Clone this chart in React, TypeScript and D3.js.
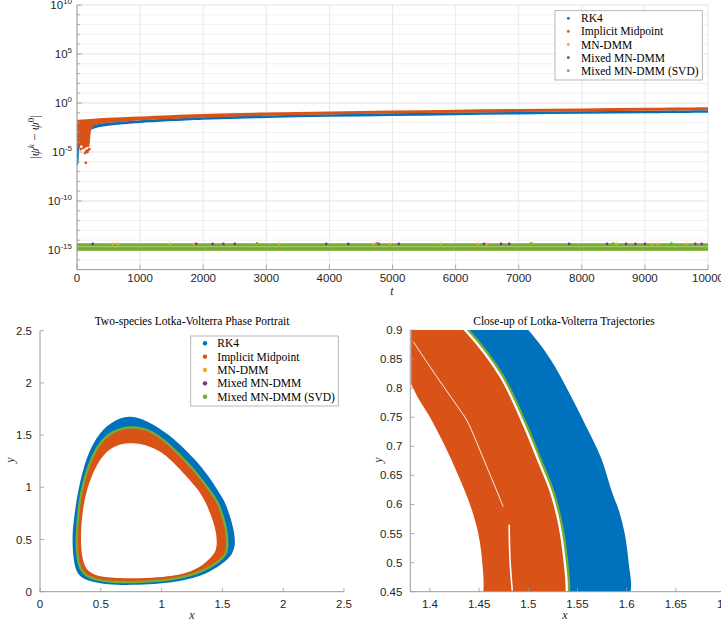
import React from 'react';
import * as d3 from 'd3';

// ---------- colours / names ----------
const methodNames = ['RK4', 'Implicit Midpoint', 'MN-DMM', 'Mixed MN-DMM', 'Mixed MN-DMM (SVD)'];
const methodColors = ['#0072BD', '#D95319', '#EDB120', '#7E2F8E', '#77AC30'];

// ---------- top panel data (log10 of |psi^k - psi^0|) ----------
const tTicks = [0, 1000, 2000, 3000, 4000, 5000, 6000, 7000, 8000, 9000, 10000];
const yTickExps = [-15, -10, -5, 0, 5, 10];

const imUpperT = [0, 200, 500, 1000, 2000, 3000, 4000, 5000, 6000, 7000, 8000, 9000, 10000];
const imUpperLog = [-1.72, -1.62, -1.5, -1.37, -1.12, -0.98, -0.86, -0.77, -0.68, -0.61, -0.55, -0.49, -0.43];
const imLowerT = [0, 20, 40, 70, 100, 130, 160, 185, 200, 210, 220, 235, 260, 300, 500, 800, 1000, 2000, 3000, 4000, 5000, 6000, 7000, 8000, 9000, 10000];
const imLowerLog = [-4.0, -4.2, -4.4, -4.3, -4.5, -4.6, -4.5, -4.5, -4.2, -3.5, -2.9, -2.55, -2.38, -2.25, -2.02, -1.88, -1.77, -1.5, -1.3, -1.17, -1.07, -0.99, -0.93, -0.86, -0.8, -0.75];
const imDotsT = [30, 60, 100, 127, 140, 150, 165, 180, 195];
const imDotsLog = [-4.5, -4.7, -4.6, -5.1, -6.1, -4.9, -5.0, -4.8, -4.7];

const rkT = [200, 300, 500, 800, 1000, 2000, 3000, 4000, 5000, 6000, 7000, 8000, 9000, 10000];
const rkLowerLog = [-2.8, -2.55, -2.32, -2.14, -2.04, -1.72, -1.53, -1.41, -1.32, -1.24, -1.17, -1.1, -1.04, -0.99];
const rkUpperLog = [-2.4, -2.2, -2.0, -1.85, -1.75, -1.45, -1.28, -1.15, -1.05, -0.97, -0.9, -0.84, -0.78, -0.73];
const rkStartT = [0, 10, 20, 30, 40];
const rkStartLowerLog = [-6.0, -6.4, -6.2, -5.2, -4.0];
const rkStartUpperLog = [-3.4, -3.4, -3.5, -3.6, -3.7];

const svdBandT = [0, 10000];
const svdLowerLog = [-15.07, -15.07];
const svdUpperLog = [-14.32, -14.32];
const svdStripeLog = -14.66;
const mnOutlierT = [560, 650, 1480, 1860, 2850, 3210, 4700, 4950, 5760, 6350, 6500, 7200, 8550, 9100, 9200, 9650];
const mixedOutlierT = [250, 1890, 2150, 2320, 2500, 3950, 4300, 4780, 5100, 6450, 6720, 6850, 7800, 8400, 8700, 8850, 9000, 9800, 9900];
const svdOutlierT = [2850, 4750, 7200, 8500, 9420];
const outlierLog = -14.38;

// ---------- phase portrait data (x, y) ----------
const rk4OuterOrbit: [number, number][] = [
  [1.56, 0.32], [1.59, 0.39], [1.604, 0.45], [1.602, 0.5], [1.598, 0.55], [1.592, 0.59], [1.585, 0.622],
  [1.574, 0.68], [1.558, 0.737], [1.541, 0.794], [1.522, 0.851], [1.5, 0.9], [1.39, 1.1], [1.316, 1.214],
  [1.195, 1.36], [1.07, 1.5], [0.877, 1.645], [0.726, 1.693], [0.603, 1.635], [0.49, 1.53], [0.384, 1.31],
  [0.315, 0.99], [0.274, 0.67], [0.265, 0.5], [0.272, 0.35], [0.29, 0.21], [0.33, 0.14], [0.42, 0.095],
  [0.55, 0.07], [0.75, 0.06], [1.124, 0.085], [1.398, 0.176],
];
const invariantOrbit: [number, number][] = [
  [1.52, 0.335], [1.536, 0.39], [1.5414, 0.45], [1.539, 0.507], [1.534, 0.565], [1.5254, 0.622], [1.512, 0.679],
  [1.498, 0.737], [1.4735, 0.823], [1.439, 0.9], [1.35, 1.04], [1.26, 1.18], [1.04, 1.437], [0.905, 1.549],
  [0.75, 1.588], [0.6, 1.54], [0.49, 1.437], [0.397, 1.21], [0.335, 0.958], [0.307, 0.67], [0.3, 0.45],
  [0.31, 0.3], [0.335, 0.21], [0.37, 0.16], [0.45, 0.115], [0.6, 0.092], [0.8, 0.09], [1.124, 0.115], [1.37, 0.205],
];
const imInnerOrbit: [number, number][] = [
  [1.426, 0.351], [1.447, 0.4], [1.4542, 0.45], [1.4532, 0.5], [1.4491, 0.55], [1.4407, 0.6], [1.4288, 0.65],
  [1.4153, 0.7], [1.4, 0.75], [1.389, 0.78], [1.378, 0.815], [1.342, 0.9], [1.29, 0.995], [1.17, 1.15],
  [0.987, 1.374], [0.75, 1.443], [0.576, 1.39], [0.466, 1.23], [0.384, 0.99], [0.343, 0.735], [0.332, 0.447],
  [0.356, 0.256], [0.41, 0.18], [0.5, 0.138], [0.713, 0.122], [1.124, 0.144], [1.316, 0.224],
];
const imGapUpper: [number, number][] = [[1.383, 0.88], [1.4068, 0.82], [1.4305, 0.7624], [1.4373, 0.7452], [1.4577, 0.665], [1.4745, 0.5962]];
const imGapLower: [number, number][] = [[1.4805, 0.565], [1.4814, 0.5045], [1.4837, 0.452]];

const lTicks = [0, 0.5, 1, 1.5, 2, 2.5];
const rxTicks = [1.4, 1.45, 1.5, 1.55, 1.6, 1.65, 1.7];
const ryTicks = [0.45, 0.5, 0.55, 0.6, 0.65, 0.7, 0.75, 0.8, 0.85, 0.9];

// ---------- layout ----------
const W = 721, H = 627;
const sans = 'Liberation Sans, Arial, Helvetica, sans-serif';
const serif = 'Liberation Serif, Times New Roman, serif';
const axisCol = '#9a9a9a';
const labelCol = '#262626';

const topX = d3.scaleLinear().domain([0, 10000]).range([77, 708]);
const topY = d3.scaleLog().domain([1e-17, 1e10]).range([269.6, 5]);
const lX = d3.scaleLinear().domain([0, 2.5]).range([40, 344]);
const lY = d3.scaleLinear().domain([0, 2.5]).range([591.7, 330.7]);
const rX = d3.scaleLinear().domain([1.38, 1.7]).range([410.3, 725]);
const rY = d3.scaleLinear().domain([0.45, 0.9]).range([591.7, 330]);

function band(tU: number[], vU: number[], tL: number[], vL: number[]) {
  const edge = d3.line<[number, number]>().curve(d3.curveCatmullRom.alpha(0.5));
  const up = tU.map((t, i) => [topX(t), topY(Math.pow(10, vU[i]))] as [number, number]);
  const lo = tL.map((t, i) => [topX(t), topY(Math.pow(10, vL[i]))] as [number, number]).reverse();
  return (edge(up) as string) + 'L' + (edge(lo) as string).slice(1) + 'Z';
}

function orbitPath(pts: [number, number][], sx: any, sy: any, smooth = false) {
  const curve = smooth ? d3.curveBasisClosed : d3.curveCatmullRomClosed.alpha(0.5);
  return d3.line<[number, number]>().x(d => sx(d[0])).y(d => sy(d[1])).curve(curve)(pts) as string;
}
function openPath(pts: [number, number][], sx: any, sy: any) {
  return d3.line<[number, number]>().x(d => sx(d[0])).y(d => sy(d[1])).curve(d3.curveCatmullRom.alpha(0.5))(pts) as string;
}

function Legend({ x, y, w, h, rowY, step, mx, tx, r }: any) {
  return (
    <g>
      <rect x={x} y={y} width={w} height={h} fill="#fff" stroke="#a6a6a6" strokeWidth={0.8} />
      {methodNames.map((n, i) => (
        <g key={n}>
          <circle cx={mx} cy={rowY + i * step} r={r} fill={methodColors[i]} />
          <text x={tx} y={rowY + i * step + 4} fontFamily={serif} fontSize={11.5} fill="#000">{n}</text>
        </g>
      ))}
    </g>
  );
}

function TopPanel() {
  const minorExps = d3.range(-17, 11);
  const x0 = topX.range()[0], x1 = topX.range()[1];
  const yb = topY.range()[0], yt = topY.range()[1];
  const yv = (e: number) => topY(Math.pow(10, e));
  return (
    <g>
      <defs>
        <clipPath id="clipTop"><rect x={x0} y={yt} width={x1 - x0} height={yb - yt} /></clipPath>
      </defs>
      {minorExps.map(e => (
        <line key={'gy' + e} x1={x0} x2={x1} y1={yv(e)} y2={yv(e)}
          stroke={yTickExps.includes(e) ? '#dcdcdc' : '#ececec'} strokeWidth={0.8} />
      ))}
      {tTicks.map(t => (
        <line key={'gx' + t} x1={topX(t)} x2={topX(t)} y1={yt} y2={yb} stroke="#e2e2e2" strokeWidth={0.8} />
      ))}
      <g clipPath="url(#clipTop)">
        <path d={band(rkT, rkUpperLog, rkT, rkLowerLog)} fill={methodColors[0]} />
        <path d={band(rkStartT, rkStartUpperLog, rkStartT, rkStartLowerLog)} fill={methodColors[0]} />
        <path d={band(imUpperT, imUpperLog, imLowerT, imLowerLog)} fill={methodColors[1]} />
        {imDotsT.map((t, i) => (
          <circle key={'imd' + i} cx={topX(t)} cy={yv(imDotsLog[i])} r={1.4} fill={methodColors[1]} />
        ))}
        <path d={band(svdBandT, svdUpperLog, svdBandT, svdLowerLog)} fill={methodColors[4]} />
        <line x1={x0} x2={x1} y1={yv(svdStripeLog)} y2={yv(svdStripeLog)} stroke="#a9cc78" strokeWidth={1} />
        {mnOutlierT.map((t, i) => (
          <circle key={'mn' + i} cx={topX(t)} cy={yv(outlierLog)} r={1.3} fill={methodColors[2]} />
        ))}
        {mixedOutlierT.map((t, i) => (
          <circle key={'mx' + i} cx={topX(t)} cy={yv(outlierLog)} r={1.3} fill={methodColors[3]} />
        ))}
        {svdOutlierT.map((t, i) => (
          <circle key={'sv' + i} cx={topX(t)} cy={yv(outlierLog) - 0.5} r={1.3} fill={methodColors[4]} />
        ))}
      </g>
      <line x1={x0} x2={x0} y1={yt} y2={yb} stroke={axisCol} strokeWidth={1} />
      <line x1={x0} x2={x1} y1={yb} y2={yb} stroke={axisCol} strokeWidth={1} />
      {minorExps.map(e => (
        <line key={'ty' + e} x1={x0} x2={x0 + (yTickExps.includes(e) ? 5 : 3)} y1={yv(e)} y2={yv(e)} stroke={axisCol} strokeWidth={0.8} />
      ))}
      {tTicks.map(t => (
        <g key={'tx' + t}>
          <line x1={topX(t)} x2={topX(t)} y1={yb} y2={yb - 5} stroke={axisCol} strokeWidth={0.8} />
          <text x={topX(t)} y={yb + 12.5} textAnchor="middle" fontFamily={sans} fontSize={11.5} fill={labelCol}>{String(t)}</text>
        </g>
      ))}
      {yTickExps.map(e => (
        <text key={'yl' + e} x={72} y={yv(e) + 4} textAnchor="end" fontFamily={sans} fontSize={11.5} fill={labelCol}>
          10<tspan dy={-5} fontSize={8}>{String(e)}</tspan>
        </text>
      ))}
      <text x={392} y={295} textAnchor="middle" fontFamily={serif} fontStyle="italic" fontSize={12} fill={labelCol}>t</text>
      <text transform="translate(39,137) rotate(-90)" textAnchor="middle" fontFamily={serif} fontSize={13} fill={labelCol}>
        |<tspan fontStyle="italic">ψ</tspan><tspan dy={-5} fontSize={9} fontStyle="italic">k</tspan>
        <tspan dy={5}> − </tspan><tspan fontStyle="italic">ψ</tspan><tspan dy={-5} fontSize={9}>0</tspan><tspan dy={5}>|</tspan>
      </text>
      <Legend x={555} y={10.7} w={147.3} h={69.3} rowY={18.3} step={13.1} mx={568.3} tx={581} r={1.4} />
    </g>
  );
}

function Axes2D({ sx, sy, xt, yt, ylabX, title, xlabX }: any) {
  const x0 = sx.range()[0], x1 = sx.range()[1];
  const yb = sy.range()[0], ytp = sy.range()[1];
  return (
    <g>
      <line x1={x0} x2={x0} y1={ytp} y2={yb} stroke={axisCol} strokeWidth={1} />
      <line x1={x0} x2={x1} y1={yb} y2={yb} stroke={axisCol} strokeWidth={1} />
      {xt.map((v: number) => (
        <g key={'x' + v}>
          <line x1={sx(v)} x2={sx(v)} y1={yb} y2={yb - 4} stroke={axisCol} strokeWidth={0.8} />
          <text x={sx(v)} y={yb + 16} textAnchor="middle" fontFamily={sans} fontSize={11.5} fill={labelCol}>{String(v)}</text>
        </g>
      ))}
      {yt.map((v: number) => (
        <g key={'y' + v}>
          <line x1={x0} x2={x0 + 4} y1={sy(v)} y2={sy(v)} stroke={axisCol} strokeWidth={0.8} />
          <text x={x0 - 8} y={sy(v) + 4} textAnchor="end" fontFamily={sans} fontSize={11.5} fill={labelCol}>{String(v)}</text>
        </g>
      ))}
      <text x={xlabX} y={619} textAnchor="middle" fontFamily={serif} fontStyle="italic" fontSize={12} fill={labelCol}>x</text>
      <text transform={`translate(${ylabX},460) rotate(-90)`} textAnchor="middle" fontFamily={serif} fontStyle="italic" fontSize={12} fill={labelCol}>y</text>
      <text x={title.x} y={325} textAnchor="middle" fontFamily={serif} fontSize={11.5} fill="#000">{title.text}</text>
    </g>
  );
}

function LeftPanel() {
  const inv = orbitPath(invariantOrbit, lX, lY, true);
  return (
    <g>
      <defs>
        <clipPath id="clipL"><rect x={40} y={330.7} width={304} height={261} /></clipPath>
      </defs>
      <g clipPath="url(#clipL)">
        <path d={inv + orbitPath(imInnerOrbit, lX, lY, true)} fill={methodColors[1]} fillRule="evenodd" />
        <path d={orbitPath(rk4OuterOrbit, lX, lY, true) + inv} fill={methodColors[0]} fillRule="evenodd" />
        <path d={inv} fill="none" stroke={methodColors[4]} strokeWidth={2.4} />
      </g>
      <Axes2D sx={lX} sy={lY} xt={lTicks} yt={lTicks} ylabX={14} xlabX={192}
        title={{ x: 192, text: 'Two-species Lotka-Volterra Phase Portrait' }} />
      <Legend x={190.7} y={336} w={147.6} h={70} rowY={343.3} step={13.35} mx={205} tx={217.3} r={2.2} />
    </g>
  );
}

function RightPanel() {
  const inv = orbitPath(invariantOrbit, rX, rY);
  return (
    <g>
      <defs>
        <clipPath id="clipR"><rect x={411.2} y={330} width={320} height={261.7} /></clipPath>
      </defs>
      <g clipPath="url(#clipR)">
        <path d={inv + orbitPath(imInnerOrbit, rX, rY)} fill={methodColors[1]} fillRule="evenodd" />
        <path d={inv} fill="none" stroke="#fff" strokeWidth={7} />
        <path d={orbitPath(rk4OuterOrbit, rX, rY) + inv} fill={methodColors[0]} fillRule="evenodd" />
        <path d={inv} fill="none" stroke={methodColors[4]} strokeWidth={2.4} />
        <path d={openPath(imGapUpper, rX, rY)} fill="none" stroke="#fff" strokeWidth={0.9} />
        <path d={openPath(imGapLower, rX, rY)} fill="none" stroke="#fff" strokeWidth={1.6} />
      </g>
      <Axes2D sx={rX} sy={rY} xt={rxTicks} yt={ryTicks} ylabX={382} xlabX={565}
        title={{ x: 564, text: 'Close-up of Lotka-Volterra Trajectories' }} />
    </g>
  );
}

export default function App() {
  return (
    <svg width={W} height={H} viewBox={`0 0 ${W} ${H}`} style={{ position: 'absolute', left: 0, top: 0, background: '#fff' }}>
      <rect x={0} y={0} width={W} height={H} fill="#fff" />
      <TopPanel />
      <LeftPanel />
      <RightPanel />
    </svg>
  );
}
